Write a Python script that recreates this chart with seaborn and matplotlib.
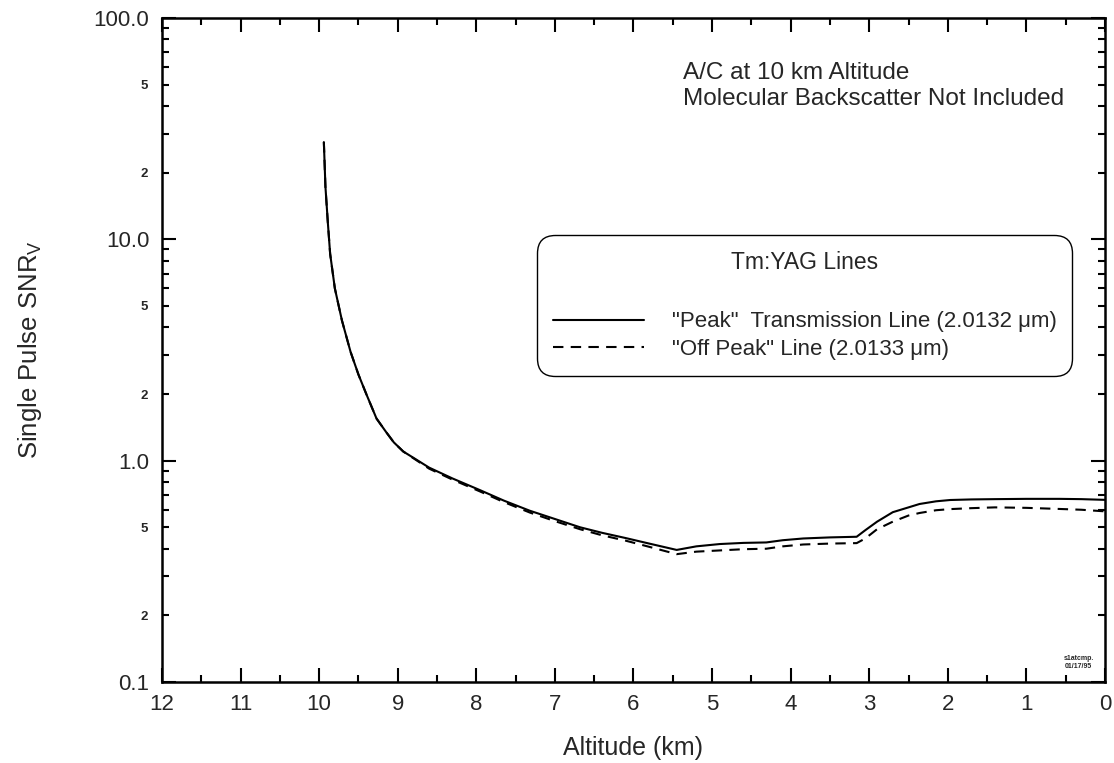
import numpy as np
import pandas as pd
import matplotlib
matplotlib.use("Agg")
import matplotlib.pyplot as plt
import seaborn as sns
from matplotlib.ticker import FixedLocator, FixedFormatter, NullFormatter

# ---------------- data ----------------
altitude_km = [9.94, 9.92, 9.89, 9.86, 9.80, 9.71, 9.60, 9.50, 9.40, 9.27, 9.15,
               9.05, 8.93, 8.80, 8.60, 8.30, 7.95, 7.65, 7.32, 7.00, 6.68, 6.40,
               6.10, 5.80, 5.45, 5.20, 4.90, 4.60, 4.31, 4.10, 3.84, 3.50, 3.16,
               3.05, 2.90, 2.70, 2.50, 2.36, 2.15, 1.97, 1.70, 1.40, 1.00, 0.58,
               0.30, 0.00]

snr_peak = [27.5, 17.3, 12.0, 8.6, 6.0, 4.3, 3.1, 2.45, 2.0, 1.55, 1.35,
            1.21, 1.10, 1.03, 0.93, 0.83, 0.735, 0.66, 0.594, 0.545, 0.50, 0.472,
            0.447, 0.422, 0.395, 0.41, 0.42, 0.425, 0.427, 0.437, 0.445, 0.45, 0.453,
            0.485, 0.53, 0.585, 0.615, 0.637, 0.655, 0.664, 0.668, 0.67, 0.672, 0.672,
            0.67, 0.665]

snr_offpeak = [27.5, 17.3, 12.0, 8.6, 6.0, 4.3, 3.1, 2.45, 2.0, 1.55, 1.35,
               1.21, 1.10, 1.025, 0.92, 0.82, 0.725, 0.65, 0.583, 0.533, 0.49, 0.46,
               0.435, 0.408, 0.378, 0.388, 0.393, 0.398, 0.40, 0.41, 0.418, 0.422, 0.424,
               0.445, 0.49, 0.53, 0.565, 0.58, 0.597, 0.604, 0.61, 0.615, 0.612, 0.605,
               0.60, 0.59]

series_labels = ['"Peak"  Transmission Line (2.0132 \u03bcm)',
                 '"Off Peak" Line (2.0133 \u03bcm)']

x_major_ticks = list(range(0, 13))
x_minor_ticks = [v + 0.5 for v in range(0, 12)]
y_major_ticks = [0.1, 1.0, 10.0, 100.0]
y_major_labels = ["0.1", "1.0", "10.0", "100.0"]
y_minor_ticks = [m * 10.0 ** e for e in (-1, 0, 1) for m in range(2, 10)]
y_minor_labels = [("2" if m == 2 else "5" if m == 5 else "") for e in (-1, 0, 1) for m in range(2, 10)]

# ---------------- style ----------------
sns.set_style("ticks")
plt.rcParams["font.family"] = ["Liberation Sans", "DejaVu Sans"]
plt.rcParams["mathtext.fontset"] = "custom"
plt.rcParams["mathtext.rm"] = "Liberation Sans"
plt.rcParams["mathtext.it"] = "Liberation Sans"

df = pd.DataFrame({
    "Altitude": altitude_km * 2,
    "SNR": snr_peak + snr_offpeak,
    "Line": [series_labels[0]] * len(altitude_km) + [series_labels[1]] * len(altitude_km),
})

fig = plt.figure(figsize=(11.14, 7.63), dpi=100)
ax = fig.add_axes([0.1454, 0.1062, 0.8465, 0.8702])

sns.lineplot(data=df, x="Altitude", y="SNR", style="Line", style_order=series_labels,
             dashes={series_labels[0]: "", series_labels[1]: (5, 3.5)},
             color="black", linewidth=1.5, sort=False, estimator=None, ax=ax,
             legend=False)

ax.set_yscale("log")
ax.set_xlim(12, 0)
ax.set_ylim(0.1, 100)

ax.xaxis.set_major_locator(FixedLocator(x_major_ticks))
ax.xaxis.set_minor_locator(FixedLocator(x_minor_ticks))
ax.set_xticklabels([str(v) for v in x_major_ticks])
ax.xaxis.set_minor_formatter(NullFormatter())

ax.yaxis.set_major_locator(FixedLocator(y_major_ticks))
ax.yaxis.set_major_formatter(FixedFormatter(y_major_labels))
ax.yaxis.set_minor_locator(FixedLocator(y_minor_ticks))
ax.yaxis.set_minor_formatter(FixedFormatter(y_minor_labels))
for lab in ax.get_yticklabels(minor=True):
    lab.set_fontweight("bold")

ax.tick_params(axis="both", which="both", direction="in", top=True, right=True,
               color="black", width=1.5)
ax.tick_params(axis="x", which="major", length=10, labelsize=16, pad=9)
ax.tick_params(axis="x", which="minor", length=5)
ax.tick_params(axis="y", which="major", length=10, labelsize=16, pad=9)
ax.tick_params(axis="y", which="minor", length=5, labelsize=9.5, pad=10)

for sp in ax.spines.values():
    sp.set_linewidth(1.8)
    sp.set_color("black")

ax.set_xlabel("Altitude (km)", fontsize=18, labelpad=15)
ax.set_ylabel("Single Pulse SNR$_\\mathregular{V}$", fontsize=18.5, labelpad=36)

# annotations
ax.text(0.552, 0.9335, "A/C at 10 km Altitude\nMolecular Backscatter Not Included",
        transform=ax.transAxes, fontsize=17.5, va="top", ha="left", linespacing=1.2)
ax.text(0.972, 0.03, "s1atcmp.\n01/17/95", transform=ax.transAxes, fontsize=5,
        fontweight="bold", ha="center", va="center")

# legend
handles = ax.get_lines()[:2]
leg = ax.legend(handles, series_labels, title="Tm:YAG Lines\n", loc="upper left",
                bbox_to_anchor=(0.398, 0.673), borderaxespad=0, fontsize=16,
                title_fontsize=16.5, handlelength=4.1, handletextpad=1.25,
                labelspacing=0.3, borderpad=0.7, frameon=True, fancybox=True)
leg.get_title().set_linespacing(1.45)
leg.get_frame().set_edgecolor("black")
leg.get_frame().set_linewidth(1.0)
leg.get_frame().set_alpha(1)
leg.legendPatch.set_boxstyle("round,pad=0,rounding_size=0.8")

fig.savefig("out.png", dpi=100)
